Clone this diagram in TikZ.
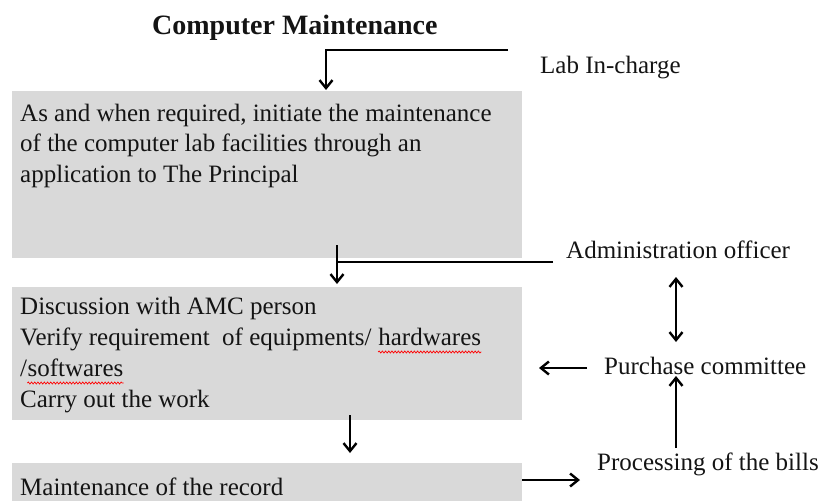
\documentclass[tikz,border=0pt]{standalone}
\usepackage{fontspec}
\setmainfont{Liberation Serif}
\usetikzlibrary{arrows.meta,decorations.pathmorphing}
\definecolor{boxgray}{RGB}{217,217,217}
\definecolor{inktxt}{RGB}{20,20,20}
\begin{document}
\begin{tikzpicture}[x=1pt,y=-1pt,
  box/.style={fill=boxgray,draw=none},
  txt/.style={anchor=base west,inner sep=0pt,text=inktxt,font=\fontsize{25}{30}\selectfont},
  ttl/.style={anchor=base west,inner sep=0pt,text=inktxt,font=\fontsize{28}{32}\selectfont\bfseries},
  barb/.tip={Straight Barb[length=8pt,width=13pt,line width=2.4pt]},
  link/.style={line width=2.6pt},
  flow/.style={line width=2.6pt,-barb},
  both/.style={line width=2.6pt,barb-barb},
  spell/.style={red,line width=0.7pt,decorate,decoration={snake,amplitude=1pt,segment length=3.2pt}}]
\useasboundingbox (0,0) rectangle (823,501);

% process boxes
\path[box] (12,91) rectangle (522,258);
\path[box] (12,287) rectangle (522,420);
\path[box] (12,463) rectangle (522,501);

% heading
\node[ttl] (title) at (152,34) {Computer Maintenance};

% box texts
\node[txt] (a1) at (20,121) {As and when required, initiate the maintenance};
\node[txt] (a2) at (20,151) {of the computer lab facilities through an};
\node[txt] (a3) at (20,182) {application to The Principal};

\node[txt] (b1) at (20,314) {Discussion with AMC person};
\node[txt] (b2) at (20,345) {Verify requirement \ of equipments/};
\node[txt] (hw) at ([xshift=6.5pt]b2.base east) {hardwares};
\node[txt] (b3) at (20,376) {/};
\node[txt] (sw) at (b3.base east) {softwares};
\node[txt] (b4) at (20,407) {Carry out the work};

\node[txt] (c1) at (20,495) {Maintenance of the record};

% roles
\node[txt] (lab) at (540,73) {Lab In-charge};
\node[txt] (adm) at (566,258) {Administration officer};
\node[txt] (pur) at (604,374) {Purchase committee};
\node[txt] (bill) at (597,470) {Processing of the bills};

% spelling marks
\draw[spell] ([yshift=-7pt]hw.base west) -- ([yshift=-7pt]hw.base east);
\draw[spell] ([yshift=-7pt]sw.base west) -- ([yshift=-7pt]sw.base east);

% connector end points
\coordinate (labend) at (508,50);
\coordinate (labturn) at (326,50);
\coordinate (labtip) at (326,90);
\coordinate (admend) at (553,262);
\coordinate (admturn) at (337,262);
\coordinate (admtop) at (337,245);
\coordinate (admtip) at (337,284);
\coordinate (btop) at (350,415);
\coordinate (btip) at (350,453);
\coordinate (pstart) at (587,368);
\coordinate (ptip) at (539,368);
\coordinate (rstart) at (522,480);
\coordinate (rtip) at (580,480);
\coordinate (dtop) at (676,277);
\coordinate (dbot) at (676,342);
\coordinate (ustart) at (676,448);
\coordinate (utip) at (676,376);

% connectors
\draw[flow] (labend) -- (labturn) -- (labtip);
\draw[link] (admend) -- (admturn);
\draw[flow] (admtop) -- (admtip);
\draw[flow] (btop) -- (btip);
\draw[flow] (pstart) -- (ptip);
\draw[flow] (rstart) -- (rtip);
\draw[both] (dtop) -- (dbot);
\draw[flow] (ustart) -- (utip);
\end{tikzpicture}
\end{document}
